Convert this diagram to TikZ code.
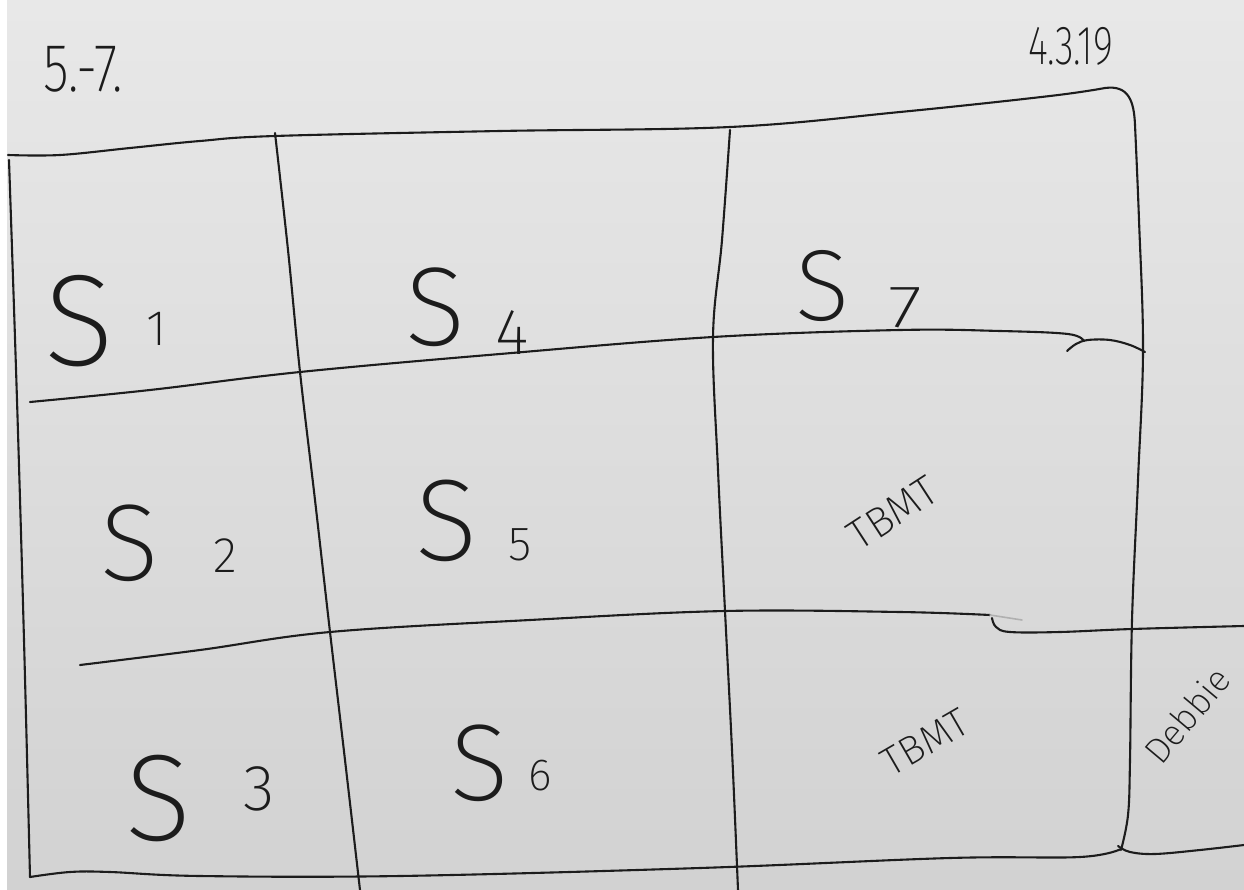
\documentclass[tikz,border=0pt]{standalone}
\usepackage{fontspec}
\IfFontExistsTF{Fira Sans ExtraLight}{\newfontfamily\hand{Fira Sans ExtraLight}}{\newfontfamily\hand{Fira Sans}}
\definecolor{ink}{HTML}{1C1C1C}
\definecolor{paperA}{HTML}{E8E8E8}
\definecolor{paperB}{HTML}{D2D2D2}
\tikzset{
  pen/.style={draw=ink, line width=2.1pt, line cap=round, line join=round},
  faint/.style={draw=ink!35, line width=1.6pt, line cap=round},
  hw/.style={text=ink, inner sep=0pt, outer sep=0pt, font=\hand},
}
\newcommand\fs[1]{\fontsize{#1}{#1}\selectfont}
\begin{document}
\begin{tikzpicture}[x=1pt,y=-1pt]
\useasboundingbox (0,0) rectangle (1244,890);
\shade[top color=paperA, bottom color=paperB] (0,0) rectangle (1244,890);
\fill[white] (0,0) rectangle (7,890);
% outer frame
\draw[pen] plot[smooth, tension=0.6] coordinates {(8,155) (60,155) (130,148) (200,141) (275,136) (500,131) (730,127) (900,112) (1050,96) (1105,88)};
\draw[pen] (1105,88) .. controls (1128,85) and (1134,100) .. (1135,125);
\draw[pen] plot[smooth, tension=0.6] coordinates {(1135,125) (1139,220) (1143,350) (1138,480) (1132,620) (1130,760) (1128,815) (1121,850)};
\draw[pen] plot[smooth, tension=0.6] coordinates {(30,877) (70,872) (110,872) (200,876) (400,876) (700,868) (950,858) (1080,857) (1121,849)};
\draw[pen] plot[smooth, tension=0.6] coordinates {(1118,846) (1130,852) (1155,854) (1200,850) (1244,845)};
\draw[pen] plot[smooth, tension=0.6] coordinates {(9,160) (17,400) (24,640) (30,877)};
% verticals
\draw[pen] plot[smooth, tension=0.6] coordinates {(275,133) (288,250) (300,372) (315,500) (330,632) (345,760) (360,890)};
\draw[pen] plot[smooth, tension=0.6] coordinates {(730,130) (722,240) (713,337) (718,470) (725,611) (732,750) (738,890)};
% horizontals
\draw[pen] plot[smooth, tension=0.6] coordinates {(30,402) (150,390) (300,372) (500,354) (713,337) (900,330) (1000,331) (1068,334) (1084,341)};
\draw[pen] plot[smooth, tension=0.6] coordinates {(1067,351) (1076,344) (1088,340) (1110,340) (1130,345) (1145,352)};
\draw[pen] plot[smooth, tension=0.6] coordinates {(80,665) (200,650) (330,632) (530,620) (725,611) (900,612) (990,615)};
\draw[faint] (990,615) -- (1022,620);
\draw[pen] plot[smooth, tension=0.6] coordinates {(992,618) (996,627) (1010,632) (1060,632) (1132,629) (1244,626)};
% header texts
\node[hw, anchor=base west, xscale=0.78] (range) at (43,92) {\fs{68}5.-7.};
\node[hw, anchor=base west, xscale=0.7] (date) at (1028,65) {\fs{55}4.3.19};
% cell labels
\node[hw, anchor=base west] (s1) at (44,365) {\fs{130}S};
\node[hw, anchor=base west] (s1n) at (146,345) {\fs{50}1};
\node[hw, anchor=base west] (s4) at (405,345) {\fs{112}S};
\node[hw, anchor=base west] (s4n) at (495,355) {\fs{65}4};
\node[hw, anchor=base west] (s7) at (795,320) {\fs{101}S};
\node[hw, anchor=base west, xscale=1.3] (s7n) at (888,327) {\fs{60}7};
\node[hw, anchor=base west] (s2) at (100,580) {\fs{109}S};
\node[hw, anchor=base west] (s2n) at (213,572) {\fs{50}2};
\node[hw, anchor=base west] (s5) at (415,560) {\fs{116}S};
\node[hw, anchor=base west] (s5n) at (508,560) {\fs{48}5};
\node[hw, anchor=base west] (s3) at (125,840) {\fs{123}S};
\node[hw, anchor=base west] (s3n) at (243,810) {\fs{65}3};
\node[hw, anchor=base west] (s6) at (450,800) {\fs{109}S};
\node[hw, anchor=base west] (s6n) at (528,790) {\fs{45}6};
\node[hw, rotate=33] (tbmt1) at (893,513) {\fs{42}TBMT};
\node[hw, rotate=30] (tbmt2) at (925,742) {\fs{40}TBMT};
\node[hw, rotate=50] (debbie) at (1187,715) {\fs{36}Debbie};
\end{tikzpicture}
\end{document}
